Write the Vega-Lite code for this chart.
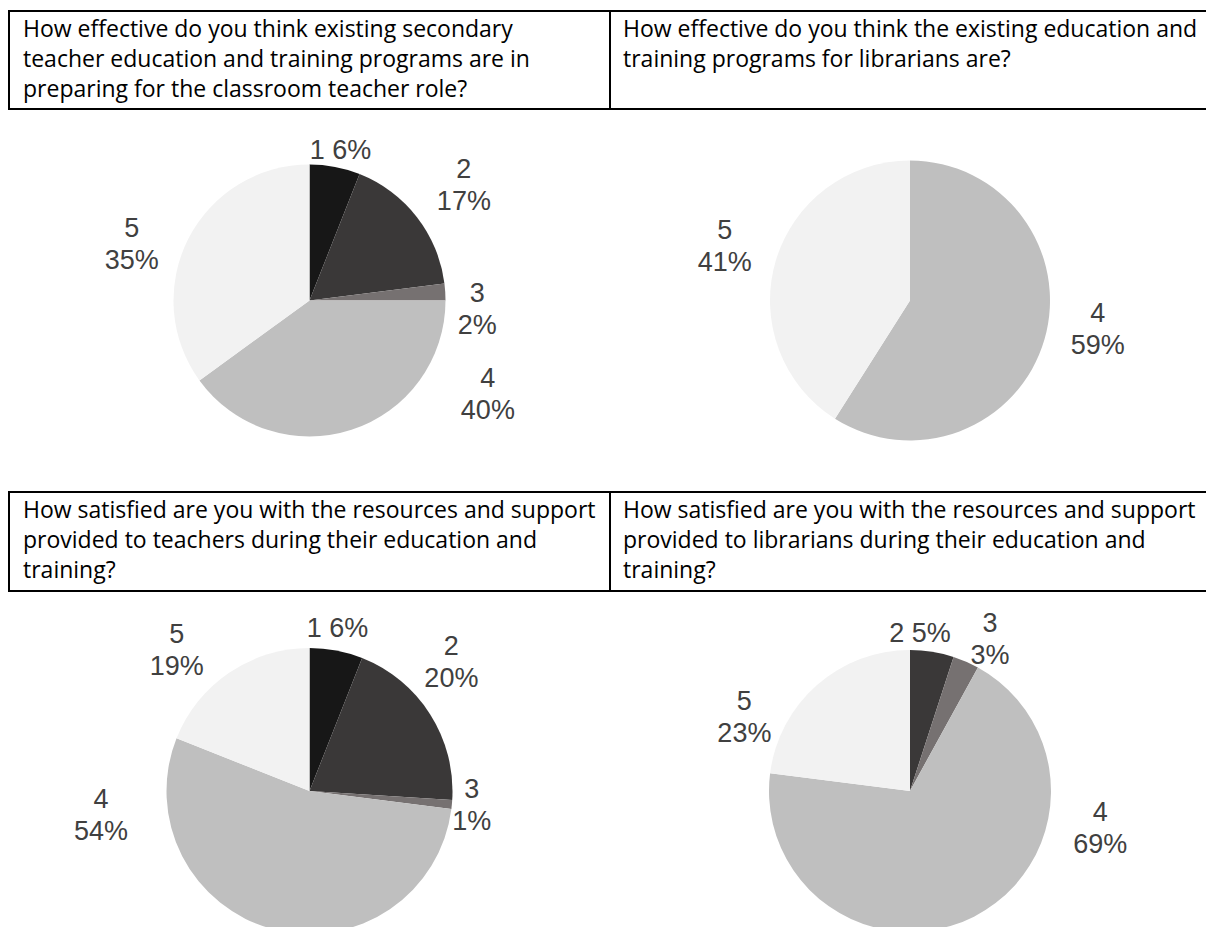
{
  "$schema": "https://vega.github.io/schema/vega-lite/v6.json",
  "padding": {"left": 8, "top": 10, "right": 0, "bottom": 0},
  "background": "white",
  "config": {
    "view": {"stroke": null},
    "text": {"font": "Liberation Sans", "fontSize": 27, "lineHeight": 32, "lineBreak": "\n", "color": "#404040"}
  },
  "datasets": {
    "questions": [
      {"panel": "q1", "question": "How effective do you think existing secondary\nteacher education and training programs are in\npreparing for the classroom teacher role?"},
      {"panel": "q2", "question": "How effective do you think the existing education and\ntraining programs for librarians are?"},
      {"panel": "q3", "question": "How satisfied are you with the resources and support\nprovided to teachers during their education and\ntraining?"},
      {"panel": "q4", "question": "How satisfied are you with the resources and support\nprovided to librarians during their education and\ntraining?"}
    ],
    "pies": [
      {"panel": "p1", "cat": "1", "value": 6, "label": "1 6%"},
      {"panel": "p1", "cat": "2", "value": 17, "label": "2\n17%"},
      {"panel": "p1", "cat": "3", "value": 2, "label": "3\n2%"},
      {"panel": "p1", "cat": "4", "value": 40, "label": "4\n40%"},
      {"panel": "p1", "cat": "5", "value": 35, "label": "5\n35%"},
      {"panel": "p2", "cat": "4", "value": 59, "label": "4\n59%"},
      {"panel": "p2", "cat": "5", "value": 41, "label": "5\n41%"},
      {"panel": "p3", "cat": "1", "value": 6, "label": "1 6%"},
      {"panel": "p3", "cat": "2", "value": 20, "label": "2\n20%"},
      {"panel": "p3", "cat": "3", "value": 1, "label": "3\n1%"},
      {"panel": "p3", "cat": "4", "value": 54, "label": "4\n54%"},
      {"panel": "p3", "cat": "5", "value": 19, "label": "5\n19%"},
      {"panel": "p4", "cat": "2", "value": 5, "label": "2 5%"},
      {"panel": "p4", "cat": "3", "value": 3, "label": "3\n3%"},
      {"panel": "p4", "cat": "4", "value": 69, "label": "4\n69%"},
      {"panel": "p4", "cat": "5", "value": 23, "label": "5\n23%"}
    ]
  },
  "columns": 2,
  "spacing": 0,
  "bounds": "flush",
  "align": "each",
  "concat": [
    {
      "width": 601, "height": 98,
      "view": {"stroke": "black", "strokeWidth": 2},
      "data": {"name": "questions"},
      "transform": [{"filter": "datum.panel === 'q1'"}],
      "mark": {"type": "text", "align": "left", "baseline": "alphabetic", "font": "Open Sans", "fontSize": 23, "lineHeight": 30, "lineBreak": "\n", "dx": 14, "dy": 26, "color": "black"},
      "encoding": {
        "x": {"datum": 0, "type": "quantitative", "scale": {"domain": [0, 1]}, "axis": null},
        "y": {"datum": 1, "type": "quantitative", "scale": {"domain": [0, 1]}, "axis": null},
        "text": {"field": "question", "type": "nominal"}
      }
    },
    {
      "width": 600, "height": 98,
      "view": {"stroke": "black", "strokeWidth": 2},
      "data": {"name": "questions"},
      "transform": [{"filter": "datum.panel === 'q2'"}],
      "mark": {"type": "text", "align": "left", "baseline": "alphabetic", "font": "Open Sans", "fontSize": 23, "lineHeight": 30, "lineBreak": "\n", "dx": 13, "dy": 26, "color": "black"},
      "encoding": {
        "x": {"datum": 0, "type": "quantitative", "scale": {"domain": [0, 1]}, "axis": null},
        "y": {"datum": 1, "type": "quantitative", "scale": {"domain": [0, 1]}, "axis": null},
        "text": {"field": "question", "type": "nominal"}
      }
    },
    {
      "width": 601, "height": 383,
      "data": {"name": "pies"},
      "transform": [{"filter": "datum.panel === 'p1'"}],
      "encoding": {
        "theta": {"field": "value", "type": "quantitative", "stack": true},
        "order": {"field": "cat", "type": "ordinal"},
        "detail": {"field": "cat", "type": "nominal"}
      },
      "layer": [
        {
          "mark": {"type": "arc", "outerRadius": 136},
          "encoding": {"color": {"field": "cat", "type": "nominal", "scale": {"domain": ["1", "2", "3", "4", "5"], "range": ["#171717", "#3a3838", "#767171", "#bfbfbf", "#f2f2f2"]}, "legend": null}}
        },
        {"mark": {"type": "text", "radius": 153, "thetaOffset": 0.016}, "encoding": {"text": {"field": "label", "type": "nominal", "condition": {"test": "datum.cat !== '1'", "value": ""}}}},
        {"mark": {"type": "text", "radius": 192, "thetaOffset": 0.023, "dy": -16}, "encoding": {"text": {"field": "label", "type": "nominal", "condition": {"test": "datum.cat !== '2'", "value": ""}}}},
        {"mark": {"type": "text", "radius": 168, "thetaOffset": 0.117, "dy": -16}, "encoding": {"text": {"field": "label", "type": "nominal", "condition": {"test": "datum.cat !== '3'", "value": ""}}}},
        {"mark": {"type": "text", "radius": 202, "thetaOffset": -0.768, "dy": -16}, "encoding": {"text": {"field": "label", "type": "nominal", "condition": {"test": "datum.cat !== '4'", "value": ""}}}},
        {"mark": {"type": "text", "radius": 186, "thetaOffset": -0.171, "dy": -16}, "encoding": {"text": {"field": "label", "type": "nominal", "condition": {"test": "datum.cat !== '5'", "value": ""}}}}
      ]
    },
    {
      "width": 600, "height": 383,
      "data": {"name": "pies"},
      "transform": [{"filter": "datum.panel === 'p2'"}],
      "encoding": {
        "theta": {"field": "value", "type": "quantitative", "stack": true},
        "order": {"field": "cat", "type": "ordinal"},
        "detail": {"field": "cat", "type": "nominal"}
      },
      "layer": [
        {
          "mark": {"type": "arc", "outerRadius": 140},
          "encoding": {"color": {"field": "cat", "type": "nominal", "scale": {"domain": ["1", "2", "3", "4", "5"], "range": ["#171717", "#3a3838", "#767171", "#bfbfbf", "#f2f2f2"]}, "legend": null}}
        },
        {"mark": {"type": "text", "radius": 190, "thetaOffset": -0.129, "dy": -16}, "encoding": {"text": {"field": "label", "type": "nominal", "condition": {"test": "datum.cat !== '4'", "value": ""}}}},
        {"mark": {"type": "text", "radius": 193, "dy": -16}, "encoding": {"text": {"field": "label", "type": "nominal", "condition": {"test": "datum.cat !== '5'", "value": ""}}}}
      ]
    },
    {
      "width": 601, "height": 99,
      "view": {"stroke": "black", "strokeWidth": 2},
      "data": {"name": "questions"},
      "transform": [{"filter": "datum.panel === 'q3'"}],
      "mark": {"type": "text", "align": "left", "baseline": "alphabetic", "font": "Open Sans", "fontSize": 23, "lineHeight": 30, "lineBreak": "\n", "dx": 14, "dy": 26, "color": "black"},
      "encoding": {
        "x": {"datum": 0, "type": "quantitative", "scale": {"domain": [0, 1]}, "axis": null},
        "y": {"datum": 1, "type": "quantitative", "scale": {"domain": [0, 1]}, "axis": null},
        "text": {"field": "question", "type": "nominal"}
      }
    },
    {
      "width": 600, "height": 99,
      "view": {"stroke": "black", "strokeWidth": 2},
      "data": {"name": "questions"},
      "transform": [{"filter": "datum.panel === 'q4'"}],
      "mark": {"type": "text", "align": "left", "baseline": "alphabetic", "font": "Open Sans", "fontSize": 23, "lineHeight": 30, "lineBreak": "\n", "dx": 13, "dy": 26, "color": "black"},
      "encoding": {
        "x": {"datum": 0, "type": "quantitative", "scale": {"domain": [0, 1]}, "axis": null},
        "y": {"datum": 1, "type": "quantitative", "scale": {"domain": [0, 1]}, "axis": null},
        "text": {"field": "question", "type": "nominal"}
      }
    },
    {
      "width": 601, "height": 400,
      "data": {"name": "pies"},
      "transform": [{"filter": "datum.panel === 'p3'"}],
      "encoding": {
        "theta": {"field": "value", "type": "quantitative", "stack": true},
        "order": {"field": "cat", "type": "ordinal"},
        "detail": {"field": "cat", "type": "nominal"}
      },
      "layer": [
        {
          "mark": {"type": "arc", "outerRadius": 143},
          "encoding": {"color": {"field": "cat", "type": "nominal", "scale": {"domain": ["1", "2", "3", "4", "5"], "range": ["#171717", "#3a3838", "#767171", "#bfbfbf", "#f2f2f2"]}, "legend": null}}
        },
        {"mark": {"type": "text", "radius": 164, "thetaOffset": -0.017}, "encoding": {"text": {"field": "label", "type": "nominal", "condition": {"test": "datum.cat !== '1'", "value": ""}}}},
        {"mark": {"type": "text", "radius": 191, "thetaOffset": -0.168, "dy": -16}, "encoding": {"text": {"field": "label", "type": "nominal", "condition": {"test": "datum.cat !== '2'", "value": ""}}}},
        {"mark": {"type": "text", "radius": 163, "dy": -16}, "encoding": {"text": {"field": "label", "type": "nominal", "condition": {"test": "datum.cat !== '3'", "value": ""}}}},
        {"mark": {"type": "text", "radius": 210, "thetaOffset": 1.2, "dy": -16}, "encoding": {"text": {"field": "label", "type": "nominal", "condition": {"test": "datum.cat !== '4'", "value": ""}}}},
        {"mark": {"type": "text", "radius": 193, "thetaOffset": -0.162, "dy": -16}, "encoding": {"text": {"field": "label", "type": "nominal", "condition": {"test": "datum.cat !== '5'", "value": ""}}}}
      ]
    },
    {
      "width": 600, "height": 400,
      "data": {"name": "pies"},
      "transform": [{"filter": "datum.panel === 'p4'"}],
      "encoding": {
        "theta": {"field": "value", "type": "quantitative", "stack": true},
        "order": {"field": "cat", "type": "ordinal"},
        "detail": {"field": "cat", "type": "nominal"}
      },
      "layer": [
        {
          "mark": {"type": "arc", "outerRadius": 141},
          "encoding": {"color": {"field": "cat", "type": "nominal", "scale": {"domain": ["1", "2", "3", "4", "5"], "range": ["#171717", "#3a3838", "#767171", "#bfbfbf", "#f2f2f2"]}, "legend": null}}
        },
        {"mark": {"type": "text", "radius": 157, "thetaOffset": -0.094}, "encoding": {"text": {"field": "label", "type": "nominal", "condition": {"test": "datum.cat !== '2'", "value": ""}}}},
        {"mark": {"type": "text", "radius": 171, "thetaOffset": 0.079, "dy": -16}, "encoding": {"text": {"field": "label", "type": "nominal", "condition": {"test": "datum.cat !== '3'", "value": ""}}}},
        {"mark": {"type": "text", "radius": 194, "thetaOffset": -0.902, "dy": -16}, "encoding": {"text": {"field": "label", "type": "nominal", "condition": {"test": "datum.cat !== '4'", "value": ""}}}},
        {"mark": {"type": "text", "radius": 181, "thetaOffset": -0.433, "dy": -16}, "encoding": {"text": {"field": "label", "type": "nominal", "condition": {"test": "datum.cat !== '5'", "value": ""}}}}
      ]
    }
  ]
}
